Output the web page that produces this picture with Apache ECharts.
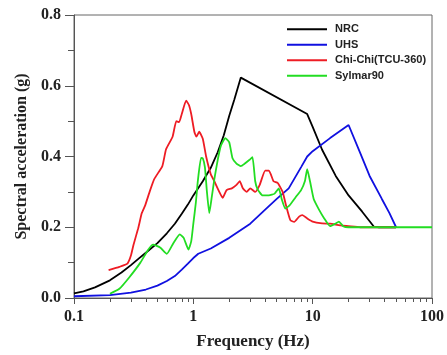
<!DOCTYPE html>
<html>
<head>
<meta charset="utf-8">
<script src="https://cdn.jsdelivr.net/npm/echarts@6/dist/echarts.min.js"></script>
<style>html,body{margin:0;padding:0;background:#fff}#c{width:447px;height:355px}</style>
</head>
<body>
<div id="c"></div>
<script>
var seriesNames = ['NRC', 'UHS', 'Chi-Chi(TCU-360)', 'Sylmar90'];

var nrcFreq = [0.1, 0.12, 0.15, 0.2, 0.25, 0.3, 0.35, 0.4, 0.5, 0.6, 0.7, 0.8, 0.9, 1.0, 1.2, 1.4, 1.6, 1.8, 2.0, 2.2, 2.5, 9.0, 10, 12, 15.6, 20, 26, 32.5, 36, 50];
var nrcVal  = [0.013, 0.019, 0.03, 0.05, 0.072, 0.093, 0.112, 0.128, 0.155, 0.183, 0.21, 0.238, 0.264, 0.29, 0.33, 0.368, 0.412, 0.46, 0.515, 0.56, 0.623, 0.52, 0.484, 0.419, 0.345, 0.29, 0.244, 0.202, 0.2, 0.2];

var uhsFreq = [0.1, 0.2, 0.3, 0.4, 0.5, 0.6, 0.7, 0.8, 0.9, 1.0, 1.1, 1.4, 2, 3, 4, 5, 6.3, 8, 9, 10, 14, 20, 25, 30, 38, 44, 50];
var uhsVal  = [0.005, 0.008, 0.015, 0.024, 0.035, 0.048, 0.062, 0.08, 0.097, 0.113, 0.125, 0.14, 0.17, 0.21, 0.25, 0.28, 0.31, 0.37, 0.40, 0.415, 0.452, 0.489, 0.41, 0.345, 0.28, 0.24, 0.2];

var chiFreq = [0.195, 0.24, 0.28, 0.3, 0.315, 0.345, 0.37, 0.395, 0.43, 0.47, 0.55, 0.59, 0.67, 0.72, 0.76, 0.8, 0.87, 0.92, 0.96, 1.02, 1.06, 1.12, 1.2, 1.28, 1.4, 1.5, 1.65, 1.76, 1.9, 2.1, 2.3, 2.45, 2.6, 2.8, 3.0, 3.3, 3.6, 4.0, 4.3, 4.7, 5.1, 5.6, 6.0, 6.5, 7.0, 7.7, 8.2, 9.0, 10, 12, 14, 17, 20, 25, 32, 40, 50];
var chiVal  = [0.079, 0.088, 0.097, 0.12, 0.15, 0.197, 0.24, 0.262, 0.3, 0.336, 0.373, 0.42, 0.456, 0.50, 0.497, 0.52, 0.558, 0.545, 0.52, 0.47, 0.456, 0.47, 0.45, 0.40, 0.35, 0.33, 0.30, 0.283, 0.305, 0.31, 0.32, 0.33, 0.31, 0.30, 0.31, 0.30, 0.32, 0.36, 0.36, 0.33, 0.325, 0.30, 0.26, 0.22, 0.215, 0.23, 0.234, 0.225, 0.216, 0.211, 0.21, 0.205, 0.203, 0.2, 0.2, 0.2, 0.2];

var sylFreq = [0.2, 0.24, 0.29, 0.36, 0.42, 0.46, 0.53, 0.6, 0.68, 0.77, 0.83, 0.91, 0.96, 1.0, 1.05, 1.09, 1.16, 1.2, 1.25, 1.3, 1.36, 1.42, 1.5, 1.6, 1.7, 1.85, 2.0, 2.13, 2.3, 2.5, 2.7, 2.94, 3.13, 3.3, 3.45, 3.8, 4.3, 4.8, 5.2, 5.5, 5.9, 6.4, 7.2, 8.0, 8.6, 9.0, 9.5, 10.2, 11.3, 12.5, 14, 15.5, 16.6, 18, 20, 30, 50, 100];
var sylVal  = [0.012, 0.026, 0.058, 0.10, 0.137, 0.151, 0.142, 0.125, 0.155, 0.18, 0.17, 0.137, 0.16, 0.21, 0.27, 0.33, 0.396, 0.395, 0.37, 0.30, 0.24, 0.28, 0.336, 0.39, 0.43, 0.452, 0.44, 0.395, 0.38, 0.373, 0.38, 0.39, 0.398, 0.33, 0.308, 0.29, 0.29, 0.295, 0.31, 0.28, 0.253, 0.262, 0.285, 0.305, 0.33, 0.364, 0.33, 0.28, 0.25, 0.225, 0.203, 0.21, 0.216, 0.203, 0.2, 0.2, 0.2, 0.2];

var xMajorTicks = [0.1, 1, 10, 100];
var xMinorTicks = [0.2, 0.3, 0.4, 0.5, 0.6, 0.7, 0.8, 0.9, 2, 3, 4, 5, 6, 7, 8, 9, 20, 30, 40, 50, 60, 70, 80, 90];
var yTickLabels = ['0.0', '0.2', '0.4', '0.6', '0.8'];

var colors = ['#000000', '#1010e0', '#ee1c24', '#22dd22'];
var smoothness = [false, false, 0.15, 0.15];

function pairs(f, v) { return f.map(function (x, i) { return [x, v[i]]; }); }
var allData = [pairs(nrcFreq, nrcVal), pairs(uhsFreq, uhsVal), pairs(chiFreq, chiVal), pairs(sylFreq, sylVal)];

var serif = 'Liberation Serif';
var chart = echarts.init(document.getElementById('c'), null, { renderer: 'canvas' });
chart.setOption({
  animation: false,
  grid: { left: 74, right: 14, top: 15, bottom: 54, show: true, borderColor: '#666', borderWidth: 1, backgroundColor: 'transparent' },
  legend: {
    orient: 'vertical', left: 287, top: 23, padding: 0,
    icon: 'rect', itemWidth: 40, itemHeight: 2, itemGap: 3,
    data: seriesNames,
    textStyle: { fontFamily: 'Liberation Sans', fontWeight: 'bold', fontSize: 11, color: '#222', padding: [0, 0, 0, 3], lineHeight: 12.5 }
  },
  xAxis: [{
    type: 'log', logBase: 10, min: 0.1, max: 100, position: 'bottom',
    name: 'Frequency (Hz)', nameLocation: 'middle', nameGap: 35,
    nameTextStyle: { fontFamily: serif, fontWeight: 'bold', fontSize: 17, color: '#222' },
    axisLine: { lineStyle: { color: '#555', width: 1 } },
    axisTick: { show: true, inside: false, length: 6, lineStyle: { color: '#555' }, customValues: xMajorTicks },
    axisLabel: { fontFamily: serif, fontWeight: 'bold', fontSize: 16, color: '#222', margin: 11, customValues: xMajorTicks,
      formatter: function (v) { return String(v); } },
    splitLine: { show: false }
  }, {
    type: 'log', logBase: 10, min: 0.1, max: 100, position: 'bottom',
    axisLine: { show: false },
    axisTick: { show: true, inside: false, length: 4, lineStyle: { color: '#555' }, customValues: xMinorTicks },
    axisLabel: { show: false },
    splitLine: { show: false }
  }],
  yAxis: {
    type: 'value', min: 0, max: 0.8, interval: 0.2,
    name: 'Spectral acceleration (g)', nameLocation: 'middle', nameGap: 44,
    nameTextStyle: { fontFamily: serif, fontWeight: 'bold', fontSize: 16, color: '#222' },
    axisLine: { show: true, lineStyle: { color: '#555', width: 1 } },
    axisTick: { show: true, inside: false, length: 9, lineStyle: { color: '#555' } },
    minorTick: { show: true, splitNumber: 2, length: 6, lineStyle: { color: '#555' } },
    axisLabel: { fontFamily: serif, fontWeight: 'bold', fontSize: 16, color: '#222', margin: 13,
      formatter: function (v) { return yTickLabels[Math.round(v / 0.2)]; } },
    splitLine: { show: false }
  },
  series: allData.map(function (d, i) {
    return {
      name: seriesNames[i], type: 'line', data: d, xAxisIndex: 0,
      symbol: 'none', smooth: smoothness[i],
      lineStyle: { color: colors[i], width: 1.8 },
      itemStyle: { color: colors[i] }
    };
  })
});
</script>
</body>
</html>
